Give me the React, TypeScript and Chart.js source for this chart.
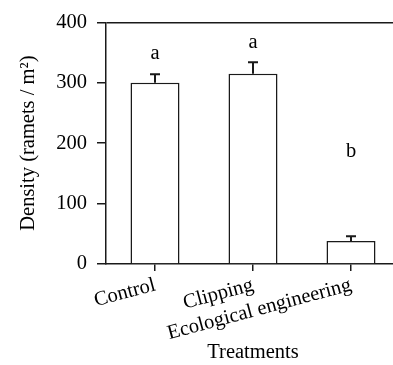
import React, { useEffect, useRef } from 'react';
import { Chart, registerables } from 'chart.js';

Chart.register(...registerables);

const categories = ['Control', 'Clipping', 'Ecological engineering'];
const densityMeans = [300, 315, 38];
const densityErrors = [14, 19, 8];
const sigLetters = ['a', 'a', 'b'];
const letterValues = [349, 367, 186];
const yTickValues = [0, 100, 200, 300, 400];

const FONT = "'Liberation Serif', 'Times New Roman', serif";
const INK = '#1a1a1a';
const FS = 20.5;

const annotPlugin = {
  id: 'annot',
  afterDatasetsDraw(chart: any) {
    const { ctx } = chart;
    const x = chart.scales.x;
    const y = chart.scales.y;
    ctx.save();
    ctx.strokeStyle = INK;
    ctx.lineWidth = 2;
    densityMeans.forEach((m, i) => {
      const px = x.getPixelForValue(i);
      const y0 = y.getPixelForValue(m);
      const y1 = y.getPixelForValue(m + densityErrors[i]);
      ctx.beginPath();
      ctx.moveTo(px, y0);
      ctx.lineTo(px, y1);
      ctx.moveTo(px - 5, y1);
      ctx.lineTo(px + 5, y1);
      ctx.stroke();
    });
    ctx.fillStyle = '#000';
    ctx.font = `${FS}px ${FONT}`;
    ctx.textAlign = 'center';
    ctx.textBaseline = 'middle';
    sigLetters.forEach((s, i) => {
      ctx.fillText(s, x.getPixelForValue(i), y.getPixelForValue(letterValues[i]));
    });
    ctx.restore();
  },
};

export default function App() {
  const ref = useRef<HTMLCanvasElement>(null);
  useEffect(() => {
    document.body.style.margin = '0';
    document.documentElement.style.overflow = 'hidden';
    document.body.style.overflow = 'hidden';
    const chart = new Chart(ref.current!, {
      type: 'bar',
      data: {
        labels: categories,
        datasets: [
          {
            data: densityMeans,
            backgroundColor: '#ffffff',
            borderColor: INK,
            borderWidth: 1.5,
            barPercentage: 0.5,
            categoryPercentage: 1,
          },
        ],
      },
      options: {
        animation: false,
        responsive: false,
        devicePixelRatio: 1,
        layout: { padding: { top: 19, right: 10, left: 0, bottom: 0 } },
        plugins: { legend: { display: false }, tooltip: { enabled: false } },
        scales: {
          x: {
            afterFit: (s: any) => { s.height = 101; },
            grid: {
              display: true,
              offset: false,
              drawOnChartArea: false,
              color: INK,
              tickColor: INK,
              tickLength: 7,
              lineWidth: 1.5,
            },
            border: { display: true, color: INK, width: 1.5 },
            ticks: {
              color: '#000',
              font: { family: FONT, size: FS },
              minRotation: 15,
              maxRotation: 15,
              autoSkip: false,
              padding: 2,
            },
            title: {
              display: true,
              text: 'Treatments',
              color: '#000',
              font: { family: FONT, size: FS },
              padding: 0,
            },
          },
          y: {
            min: 0,
            max: 400,
            afterFit: (s: any) => { s.width = 106; },
            afterBuildTicks: (s: any) => { s.ticks = yTickValues.map((v) => ({ value: v })); },
            grid: {
              color: (c: any) => (c.tick && c.tick.value === 400 ? INK : 'rgba(0,0,0,0)'),
              tickColor: INK,
              tickLength: 9,
              lineWidth: 1.5,
            },
            border: { display: true, color: INK, width: 1.5 },
            ticks: {
              color: '#000',
              font: { family: FONT, size: FS },
              padding: 10,
            },
            title: {
              display: true,
              text: 'Density (ramets / m\u00B2)',
              color: '#000',
              font: { family: FONT, size: FS },
              padding: 16,
            },
          },
        },
      },
      plugins: [annotPlugin],
    });
    return () => chart.destroy();
  }, []);
  return (
    <div style={{ position: 'absolute', left: 0, top: 0, width: 410, height: 365 }}>
      <canvas ref={ref} width={410} height={365} />
    </div>
  );
}
